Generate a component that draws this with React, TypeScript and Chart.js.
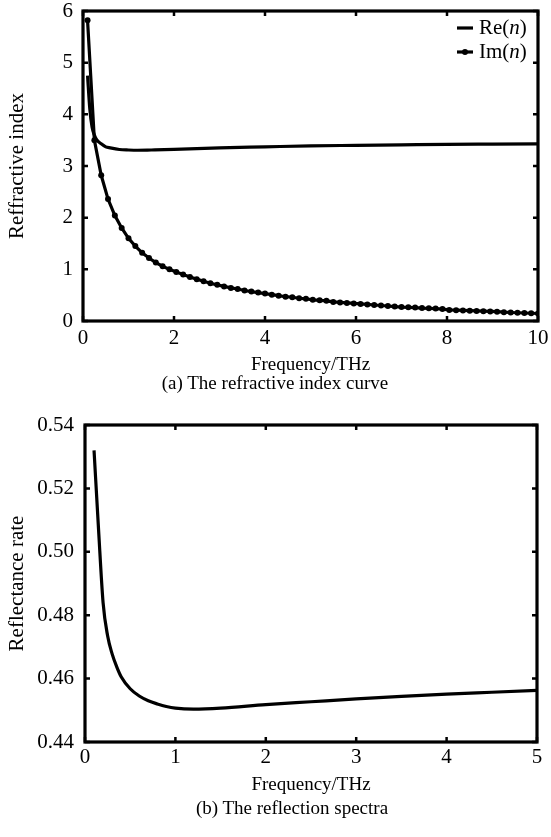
import React, { useEffect, useRef } from "react";
import { Chart, registerables } from "chart.js";

Chart.register(...registerables);

const FONT = '"Liberation Serif", "Times New Roman", serif';
const FS = 19; // horizontal titles / captions
const FT = 21; // tick labels, legend, vertical titles

// ---------- (a) refractive index ----------
const imFreq = [
  0.1, 0.25, 0.4, 0.55, 0.7, 0.85, 1.0, 1.15, 1.3, 1.45, 1.6, 1.75, 1.9, 2.05, 2.2, 2.35, 2.5,
  2.65, 2.8, 2.95, 3.1, 3.25, 3.4, 3.55, 3.7, 3.85, 4.0, 4.15, 4.3, 4.45, 4.6, 4.75, 4.9, 5.05,
  5.2, 5.35, 5.5, 5.65, 5.8, 5.95, 6.1, 6.25, 6.4, 6.55, 6.7, 6.85, 7.0, 7.15, 7.3, 7.45, 7.6,
  7.75, 7.9, 8.05, 8.2, 8.35, 8.5, 8.65, 8.8, 8.95, 9.1, 9.25, 9.4, 9.55, 9.7, 9.85, 10.0,
];
const imValues = [
  5.82, 3.5, 2.82, 2.36, 2.04, 1.8, 1.6, 1.45, 1.32, 1.22, 1.13, 1.06, 1.0, 0.95, 0.9, 0.85, 0.81,
  0.77, 0.73, 0.7, 0.67, 0.64, 0.62, 0.59, 0.57, 0.55, 0.53, 0.51, 0.49, 0.47, 0.46, 0.44, 0.43, 0.41,
  0.4, 0.39, 0.37, 0.36, 0.35, 0.34, 0.33, 0.32, 0.31, 0.3, 0.29, 0.28, 0.27, 0.265, 0.26, 0.25, 0.245,
  0.24, 0.23, 0.215, 0.21, 0.205, 0.2, 0.195, 0.19, 0.185, 0.18, 0.17, 0.165, 0.16, 0.155, 0.15, 0.145,
];
const reFreq = [0.1, 0.15, 0.2, 0.25, 0.3, 0.4, 0.5, 0.6, 0.8, 1.0, 1.2, 1.5, 2, 3, 4, 5, 6, 7, 8, 9, 10];
const reValues = [
  4.75, 4.1, 3.75, 3.6, 3.51, 3.43, 3.37, 3.35, 3.32, 3.31, 3.305, 3.31, 3.32, 3.35, 3.37, 3.39,
  3.4, 3.41, 3.42, 3.425, 3.43,
];
const xTicksA = [0, 2, 4, 6, 8, 10];
const yTicksA = [0, 1, 2, 3, 4, 5, 6];
const legendLabels = [
  ["Re(", "n", ")"],
  ["Im(", "n", ")"],
];

// ---------- (b) reflection ----------
const reflFreq = [
  0.1, 0.15, 0.2, 0.25, 0.3, 0.35, 0.4, 0.5, 0.6, 0.7, 0.8, 0.9, 1.0, 1.2, 1.5, 2.0, 2.5, 3.0, 3.5,
  4.0, 4.5, 5.0,
];
const reflValues = [
  0.532, 0.507, 0.484, 0.4735, 0.4678, 0.4638, 0.4606, 0.4568, 0.4545, 0.453, 0.452, 0.4512, 0.4507,
  0.4504, 0.4507, 0.4518, 0.4527, 0.4536, 0.4544, 0.4551, 0.4557, 0.4563,
];
const xTicksB = [0, 1, 2, 3, 4, 5];
const yTicksB = [0.44, 0.46, 0.48, 0.5, 0.52, 0.54];

const boxPlugin = {
  id: "boxTicks",
  afterDatasetsDraw(chart: any) {
    const { ctx, chartArea } = chart;
    const { left, right, top, bottom } = chartArea;
    const x = chart.scales.x;
    const y = chart.scales.y;
    ctx.save();
    ctx.strokeStyle = "#000";
    ctx.lineWidth = 2.5;
    const L = 5;
    ctx.beginPath();
    x.ticks.forEach((t: any) => {
      const px = x.getPixelForValue(t.value);
      ctx.moveTo(px, bottom);
      ctx.lineTo(px, bottom - L);
      ctx.moveTo(px, top);
      ctx.lineTo(px, top + L);
    });
    y.ticks.forEach((t: any) => {
      const py = y.getPixelForValue(t.value);
      ctx.moveTo(left, py);
      ctx.lineTo(left + L, py);
      ctx.moveTo(right, py);
      ctx.lineTo(right - L, py);
    });
    ctx.stroke();
    ctx.lineWidth = 3.2;
    ctx.strokeRect(left, top, right - left, bottom - top);
    ctx.restore();
  },
};

const legendPlugin = {
  id: "innerLegend",
  afterDraw(chart: any) {
    const opts = chart.options.plugins.innerLegend;
    if (!opts) return;
    const { ctx, chartArea } = chart;
    const { right, top } = chartArea;
    ctx.save();
    ctx.textBaseline = "middle";
    chart.data.datasets.forEach((ds: any, i: number) => {
      const parts: string[] = opts.labels[i];
      const yy = top + 17 + i * 24;
      const x0 = right - 81;
      const x1 = right - 65;
      ctx.strokeStyle = "#000";
      ctx.lineWidth = 3.2;
      ctx.beginPath();
      ctx.moveTo(x0, yy);
      ctx.lineTo(x1, yy);
      ctx.stroke();
      if (ds.pointRadius > 0) {
        ctx.fillStyle = "#000";
        ctx.beginPath();
        ctx.arc((x0 + x1) / 2, yy, 3, 0, Math.PI * 2);
        ctx.fill();
      }
      let tx = right - 59;
      ctx.fillStyle = "#000";
      parts.forEach((p, k) => {
        ctx.font = (k === 1 ? "italic " : "") + FT + "px " + FONT;
        ctx.fillText(p, tx, yy);
        tx += ctx.measureText(p).width;
      });
    });
    ctx.restore();
  },
};

function makeOptions(cfg: any) {
  return {
    responsive: false,
    animation: false,
    devicePixelRatio: 1,
    layout: { padding: cfg.padding },
    plugins: {
      legend: { display: false },
      tooltip: { enabled: false },
      innerLegend: cfg.legend,
    },
    scales: {
      x: {
        type: "linear",
        min: cfg.xMin,
        max: cfg.xMax,
        afterBuildTicks: (s: any) => {
          s.ticks = cfg.xTicks.map((v: number) => ({ value: v }));
        },
        afterFit: (s: any) => {
          s.height = cfg.xHeight;
          s.paddingLeft = 0;
          s.paddingRight = 0;
        },
        grid: { display: false, drawTicks: false },
        border: { display: false },
        ticks: {
          color: "#000",
          padding: cfg.xTickPad,
          maxRotation: 0,
          font: { family: FONT, size: FT },
          callback: (v: any) => cfg.xFmt(v),
        },
        title: {
          display: true,
          text: "Frequency/THz",
          color: "#000",
          font: { family: FONT, size: FS },
          padding: { top: 0, bottom: 0 },
        },
      },
      y: {
        type: "linear",
        min: cfg.yMin,
        max: cfg.yMax,
        afterBuildTicks: (s: any) => {
          s.ticks = cfg.yTicks.map((v: number) => ({ value: v }));
        },
        afterFit: (s: any) => {
          s.width = cfg.yWidth;
          s.paddingTop = 0;
          s.paddingBottom = 0;
        },
        grid: { display: false, drawTicks: false },
        border: { display: false },
        ticks: {
          color: "#000",
          padding: cfg.yTickPad,
          font: { family: FONT, size: FT },
          callback: (v: any) => cfg.yFmt(v),
        },
        title: {
          display: true,
          text: cfg.yTitle,
          color: "#000",
          font: { family: FONT, size: FT },
          padding: { top: 5, bottom: 0 },
        },
      },
    },
  };
}

export default function App() {
  const refA = useRef<HTMLCanvasElement>(null);
  const refB = useRef<HTMLCanvasElement>(null);

  useEffect(() => {
    const chartA = new Chart(refA.current as HTMLCanvasElement, {
      type: "line",
      data: {
        datasets: [
          {
            label: "Re(n)",
            data: reFreq.map((f, i) => ({ x: f, y: reValues[i] })),
            borderColor: "#000",
            borderWidth: 3.2,
            pointRadius: 0,
            cubicInterpolationMode: "monotone",
          },
          {
            label: "Im(n)",
            data: imFreq.map((f, i) => ({ x: f, y: imValues[i] })),
            borderColor: "#000",
            backgroundColor: "#000",
            borderWidth: 3.2,
            pointRadius: 3,
            pointBorderWidth: 0,
            pointBackgroundColor: "#000",
            tension: 0,
          },
        ],
      },
      options: makeOptions({
        padding: { top: 11, right: 13, left: 0, bottom: 0 },
        xMin: 0,
        xMax: 10,
        xTicks: xTicksA,
        xHeight: 55,
        xTickPad: 5,
        xFmt: (v: number) => String(v),
        yMin: 0,
        yMax: 6,
        yTicks: yTicksA,
        yWidth: 83,
        yTickPad: 10,
        yFmt: (v: number) => String(v),
        yTitle: "Reffractive index",
        legend: { labels: legendLabels },
      }) as any,
      plugins: [boxPlugin, legendPlugin],
    });

    const chartB = new Chart(refB.current as HTMLCanvasElement, {
      type: "line",
      data: {
        datasets: [
          {
            label: "Reflectance",
            data: reflFreq.map((f, i) => ({ x: f, y: reflValues[i] })),
            borderColor: "#000",
            borderWidth: 3.2,
            pointRadius: 0,
            cubicInterpolationMode: "monotone",
          },
        ],
      },
      options: makeOptions({
        padding: { top: 25, right: 14, left: 0, bottom: 0 },
        xMin: 0,
        xMax: 5,
        xTicks: xTicksB,
        xHeight: 54,
        xTickPad: 3,
        xFmt: (v: number) => String(v),
        yMin: 0.44,
        yMax: 0.54,
        yTicks: yTicksB,
        yWidth: 85,
        yTickPad: 11,
        yFmt: (v: number) => Number(v).toFixed(2),
        yTitle: "Reflectance rate",
        legend: null,
      }) as any,
      plugins: [boxPlugin],
    });

    return () => {
      chartA.destroy();
      chartB.destroy();
    };
  }, []);

  const caption: React.CSSProperties = {
    position: "absolute",
    textAlign: "center",
    fontFamily: FONT,
    fontSize: FS,
    lineHeight: "23px",
    color: "#000",
    whiteSpace: "nowrap",
  };

  return (
    <div
      style={{
        position: "absolute",
        left: 0,
        top: 0,
        width: 551,
        height: 837,
        background: "#fff",
        overflow: "hidden",
      }}
    >
      <canvas
        ref={refA}
        width={551}
        height={376}
        style={{ position: "absolute", left: 0, top: 0, width: 551, height: 376 }}
      />
      <div style={{ ...caption, left: 75, width: 400, top: 382 - 11.5 }}>(a) The refractive index curve</div>
      <canvas
        ref={refB}
        width={551}
        height={396}
        style={{ position: "absolute", left: 0, top: 400, width: 551, height: 396 }}
      />
      <div style={{ ...caption, left: 92, width: 400, top: 807 - 11.5 }}>(b) The reflection spectra</div>
    </div>
  );
}
